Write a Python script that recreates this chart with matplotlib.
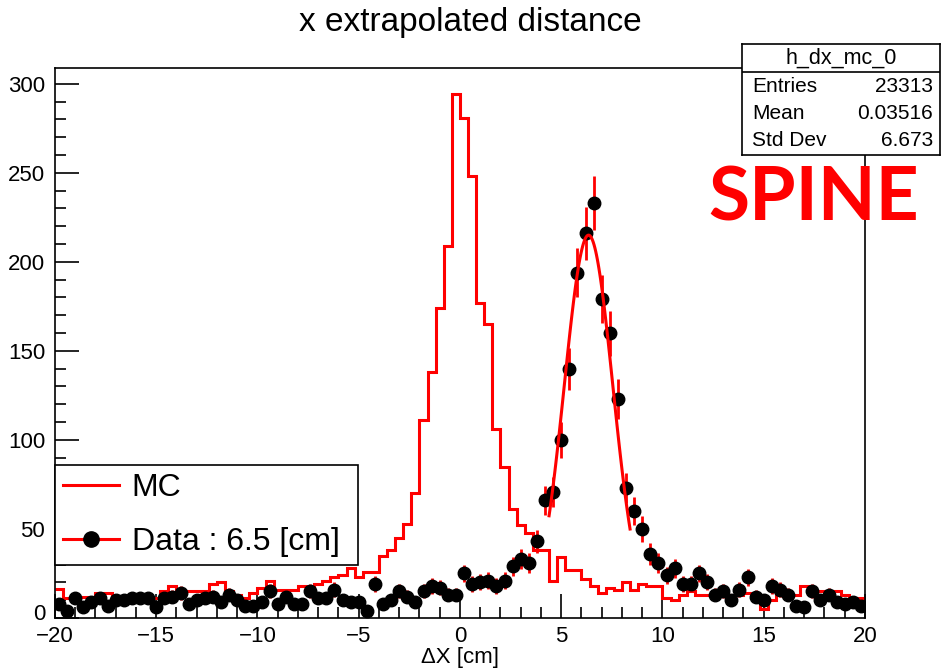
import numpy as np
import matplotlib
matplotlib.use('Agg')
from matplotlib import pyplot as plt
from matplotlib.lines import Line2D
from matplotlib.ticker import MultipleLocator
from matplotlib.transforms import ScaledTranslation

plt.rcParams['font.family'] = ['Liberation Sans', 'DejaVu Sans']

# 100 bins of 0.4 cm between -20 and 20
x_lo, x_hi, n_bins = -20.0, 20.0, 100

mc_counts = [16.5, 11, 11, 12, 12, 14, 14, 11, 11, 11,
             11, 11, 11, 15, 18, 15, 15, 15, 15, 19,
             20, 15, 13, 11, 14, 17, 21, 15.5, 15.5, 15.5,
             18, 16, 19, 21, 23, 24, 28, 23, 26, 26,
             35, 38, 45, 53, 70, 111, 138, 174, 209, 294,
             281, 248, 177, 165, 106, 85, 61, 52, 48, 38,
             38, 21, 34, 27, 27, 22, 18, 14, 17, 16,
             20, 16, 19, 18, 18, 11, 10, 13, 15, 13,
             13, 13, 13, 13, 13, 14, 13, 5, 10, 13,
             13, 13, 18, 15, 15, 15, 15, 13, 11, 11]

data_counts = [8, 4, 11, 6, 9, 11, 7, 10, 10, 11,
               11, 11, 6, 11, 12, 14, 8, 10, 11, 12,
               9, 13, 10, 7, 7, 9, 15, 8, 12, 8,
               8, 15, 11, 11, 16, 10, 9, 9, 4, 19,
               8, 10, 15, 12, 9, 15, 18, 17, 13, 13,
               25, 19, 20, 21, 18, 21, 29, 33, 31, 43,
               66, 71, 100, 140, 194, 216, 233, 179, 160, 123,
               73, 60, 50, 36, 31, 24, 28, 19, 19, 25,
               20, 13, 15, 10, 16, 23, 12, 10, 18, 16,
               13, 7, 6, 15, 10, 13, 9, 8, 9, 7]

# gaussian fit to the data peak
fit_const, fit_mean, fit_sigma = 215.0, 6.35, 1.2
fit_lo, fit_hi = 4.4, 8.4

stats_name = 'h_dx_mc_0'
stats_labels = ['Entries', 'Mean', 'Std Dev']
stats_values = ['23313', '0.03516', '6.673']

edges = np.linspace(x_lo, x_hi, n_bins + 1)
centers = 0.5 * (edges[:-1] + edges[1:])
half_w = 0.5 * (edges[1] - edges[0])
data = np.array(data_counts, dtype=float)

fig = plt.figure(figsize=(9.41, 6.69), dpi=100)
ax = fig.add_axes([0.0584, 0.0762, 0.8608, 0.8218])

ax.stairs(mc_counts, edges, baseline=None, color='red', lw=2.2, zorder=2)
ax.errorbar(centers, data, yerr=np.sqrt(data), xerr=half_w, fmt='o',
            color='black', ecolor='red', elinewidth=2, ms=9, capsize=0, zorder=3)

xf = np.linspace(fit_lo, fit_hi, 100)
yf = fit_const * np.exp(-0.5 * ((xf - fit_mean) / fit_sigma) ** 2)
ax.plot(xf, yf, color='red', lw=2.2, zorder=4)

ax.set_xlim(x_lo, x_hi)
ax.set_ylim(0, 308.7)
ax.xaxis.set_major_locator(MultipleLocator(5))
ax.xaxis.set_minor_locator(MultipleLocator(1))
ax.yaxis.set_major_locator(MultipleLocator(50))
ax.yaxis.set_minor_locator(MultipleLocator(10))
ax.tick_params(which='both', direction='in', top=False, right=False, labelsize=16)
ax.tick_params(which='major', length=17, width=1.2)
ax.tick_params(which='minor', length=8, width=1.2)
ax.tick_params(axis='x', pad=6)
ax.tick_params(axis='y', pad=7)
for s in ax.spines.values():
    s.set_linewidth(1.2)
ax.set_xlabel('\u0394X [cm]', fontsize=16, labelpad=0)

fig.text(0.5, 0.966, 'x extrapolated distance', ha='center', va='center', fontsize=24)

handles = [Line2D([], [], color='red', lw=2.2),
           Line2D([], [], color='red', lw=2.2, marker='o', mfc='black', mec='black', ms=11)]
leg = ax.legend(handles, ['MC', 'Data : 6.5 [cm]'], loc='lower left',
                bbox_to_anchor=(0.0, 0.0964, 0.374, 0.178), mode='expand',
                fontsize=23, frameon=True, fancybox=False, framealpha=1,
                edgecolor='black', handlelength=1.75, handletextpad=0.4,
                borderaxespad=0, labelspacing=0.75, borderpad=0.25)
leg.get_frame().set_linewidth(1.2)

# stats box
sax = fig.add_axes([0.7885, 0.768, 0.2105, 0.166])
sax.set_xticks([])
sax.set_yticks([])
sax.set_xlim(0, 1)
sax.set_ylim(0, 1)
for s in sax.spines.values():
    s.set_linewidth(1.2)
sax.axhline(0.745, color='black', lw=1.2)
sax.text(0.5, 0.875, stats_name, ha='center', va='center', fontsize=15.5)
for i, (lab, val) in enumerate(zip(stats_labels, stats_values)):
    yy = 0.62 - i * 0.245
    sax.text(0.05, yy, lab, ha='left', va='center', fontsize=15)
    sax.text(0.965, yy, val, ha='right', va='center', fontsize=15)

fig.text(0.7525, 0.671, 'SPINE', color='red', fontsize=54, fontweight='bold',
         family=['Lato', 'DejaVu Sans'], ha='left', va='baseline')

# lift the "0" label a little so it clears the "-20" below it
fig.canvas.draw()
for lab in ax.get_yticklabels():
    if lab.get_text() == '0':
        lab.set_transform(lab.get_transform() + ScaledTranslation(0, 4 / 72, fig.dpi_scale_trans))

fig.savefig('out.png', dpi=100)
